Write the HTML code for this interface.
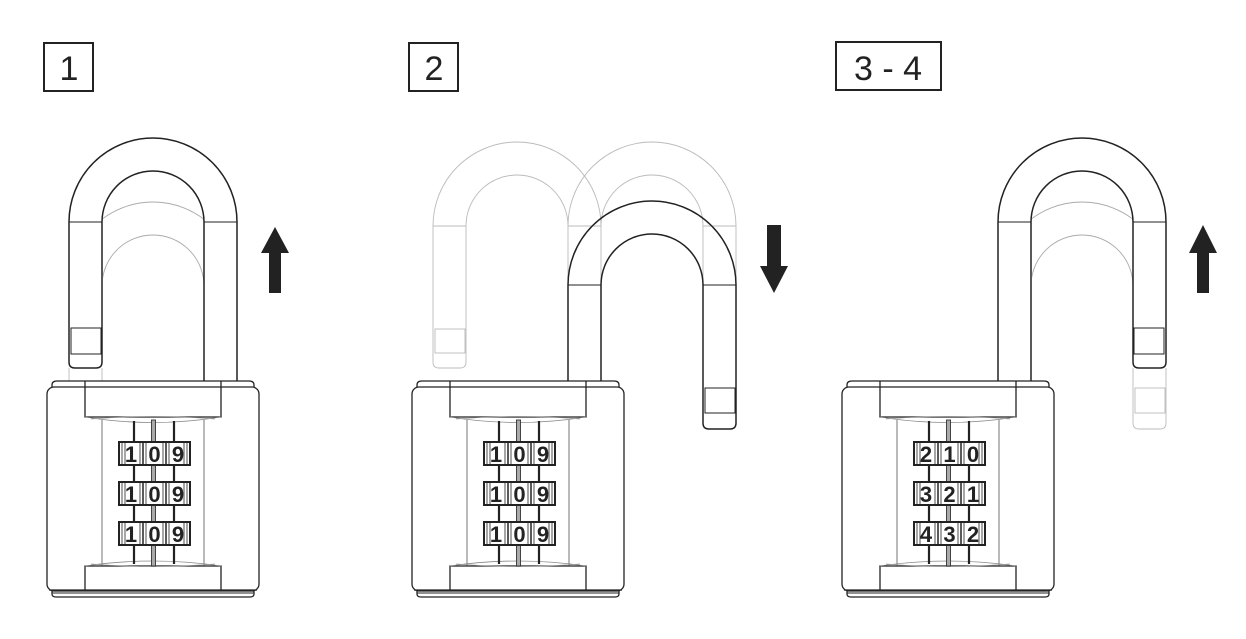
<!DOCTYPE html>
<html><head><meta charset="utf-8"><style>
html,body{margin:0;padding:0;background:#fff;}
svg{display:block;}
text{font-family:"Liberation Sans",sans-serif;}
.d{font-weight:bold;}
</style></head><body>
<svg width="1246" height="639" viewBox="0 0 1246 639" xmlns="http://www.w3.org/2000/svg">
<defs>
<g id="body" fill="none" stroke="#222" stroke-width="1.3">
  <path d="M5,388 L5,385 Q5,381 10,381 L202,381 Q207,381 207,385 L207,388" fill="#fff"/>
  <rect x="0" y="387" width="212" height="204" rx="7" fill="#fff"/>
  <path d="M5,591 L5,594 Q5,597 9,597 L203,597 Q207,597 207,594 L207,591"/>
  <line x1="2" y1="590" x2="210" y2="590"/>
  <line x1="5" y1="593" x2="207" y2="593" stroke-width="1"/>
  <path d="M38,381 L38,417 L174,417 L174,381"/>
  <path d="M38,417 Q106,428 174,417" stroke="#888" stroke-width="0.8"/>
  <path d="M44,419 Q106,414 168,419" stroke="#999" stroke-width="0.7"/>
  <line x1="55" y1="420" x2="55" y2="566" stroke="#666" stroke-width="0.9"/>
  <line x1="157" y1="420" x2="157" y2="566" stroke="#666" stroke-width="0.9"/>
  <path d="M38,590 L38,566 L174,566 L174,590"/>
  <path d="M38,566 Q106,556 174,566" stroke="#888" stroke-width="0.8"/>
  <path d="M44,564 Q106,569 168,564" stroke="#999" stroke-width="0.7"/>
  <line x1="87" y1="421" x2="87" y2="564" stroke-width="2.2"/>
  <line x1="127" y1="421" x2="127" y2="564" stroke-width="2.2"/>
  <rect x="104.5" y="420" width="4" height="146" fill="#aaa" stroke="#333" stroke-width="0.9"/>
</g>
<g id="wheel" fill="#fff" stroke="#222">
  <rect x="0" y="0" width="71" height="23" stroke-width="2"/>
  <g stroke-width="0.8">
    <line x1="3" y1="1" x2="3" y2="22"/><line x1="6" y1="1" x2="6" y2="22"/>
    <line x1="21" y1="1" x2="21" y2="22"/>
    <line x1="24" y1="1" x2="24" y2="22" stroke-width="1.5"/>
    <line x1="27" y1="1" x2="27" y2="22"/>
    <line x1="44" y1="1" x2="44" y2="22"/>
    <line x1="47" y1="1" x2="47" y2="22" stroke-width="1.5"/>
    <line x1="50" y1="1" x2="50" y2="22"/>
    <line x1="65" y1="1" x2="65" y2="22"/><line x1="68" y1="1" x2="68" y2="22"/>
  </g>
</g>
</defs>

<!-- Labels -->
<g fill="none" stroke="#222" stroke-width="2">
  <rect x="44" y="43" width="49" height="48"/>
  <rect x="409" y="43" width="49" height="48"/>
  <rect x="836" y="42" width="105" height="48"/>
</g>
<g font-size="34" fill="#222" text-anchor="middle">
  <text x="69" y="80">1</text>
  <text x="434" y="80">2</text>
  <text x="888" y="80">3 - 4</text>
</g>

<!-- ===== PANEL 1 ===== -->
<g fill="none">
  <clipPath id="c1"><rect x="103" y="150" width="101" height="235"/></clipPath>
  <g clip-path="url(#c1)" stroke="#aaa" stroke-width="0.9">
    <path d="M69,286 A84 84 0 0 1 237,286"/>
    <path d="M102,286 A51 51 0 0 1 204,286"/>
  </g>
  <line x1="69" y1="368" x2="69" y2="382" stroke="#bbb" stroke-width="0.9"/>
  <line x1="102" y1="368" x2="102" y2="382" stroke="#bbb" stroke-width="0.9"/>
  <g stroke="#222" stroke-width="1.5">
    <path d="M237,382 L237,222 A84 84 0 0 0 69,222 L69,362 Q69,368 75,368 L96,368 Q102,368 102,362 L102,222 A51 51 0 0 1 204,222 L204,382"/>
    <line x1="69" y1="222" x2="102" y2="222" stroke-width="1"/>
    <line x1="204" y1="222" x2="237" y2="222" stroke-width="1"/>
    <rect x="71" y="328" width="30" height="26" stroke-width="1"/>
  </g>
</g>
<use href="#body" x="47" y="0"/>
<use href="#wheel" x="119" y="442"/><use href="#wheel" x="119" y="482"/><use href="#wheel" x="119" y="522"/>
<g class="d" font-size="22" fill="#222" text-anchor="middle">
  <text x="131" y="462">1</text><text x="154.5" y="462">0</text><text x="178" y="462">9</text>
  <text x="131" y="502">1</text><text x="154.5" y="502">0</text><text x="178" y="502">9</text>
  <text x="131" y="542">1</text><text x="154.5" y="542">0</text><text x="178" y="542">9</text>
</g>
<path d="M275,227 L289,253 L281,253 L281,293 L269,293 L269,253 L261,253 Z" fill="#222"/>

<!-- ===== PANEL 2 ===== -->
<g fill="none" stroke="#bbb" stroke-width="0.9">
  <path d="M601,382 L601,226 A84 84 0 0 0 433,226 L433,362 Q433,368 439,368 L460,368 Q466,368 466,362 L466,226 A51 51 0 0 1 568,226 L568,382"/>
  <line x1="433" y1="226" x2="466" y2="226"/><line x1="568" y1="226" x2="601" y2="226"/>
  <rect x="435" y="329" width="30" height="24"/>
  <path d="M568,226 A84 84 0 0 1 736,226 L736,290 M703,290 L703,226 A51 51 0 0 0 601,226"/>
  <line x1="703" y1="226" x2="736" y2="226"/>
</g>
<g fill="none" stroke="#222" stroke-width="1.5">
  <path d="M568,382 L568,285 A84 84 0 0 1 736,285 L736,423 Q736,429 730,429 L709,429 Q703,429 703,423 L703,285 A51 51 0 0 0 601,285 L601,382"/>
  <line x1="568" y1="285" x2="601" y2="285" stroke-width="1"/>
  <line x1="703" y1="285" x2="736" y2="285" stroke-width="1"/>
  <rect x="705" y="388" width="30" height="25" stroke-width="1"/>
</g>
<use href="#body" x="412" y="0"/>
<use href="#wheel" x="484" y="442"/><use href="#wheel" x="484" y="482"/><use href="#wheel" x="484" y="522"/>
<g class="d" font-size="22" fill="#222" text-anchor="middle">
  <text x="496" y="462">1</text><text x="519.5" y="462">0</text><text x="543" y="462">9</text>
  <text x="496" y="502">1</text><text x="519.5" y="502">0</text><text x="543" y="502">9</text>
  <text x="496" y="542">1</text><text x="519.5" y="542">0</text><text x="543" y="542">9</text>
</g>
<path d="M767,225 L781,225 L781,266 L788,266 L774,293 L760,266 L767,266 Z" fill="#222"/>

<!-- ===== PANEL 3 ===== -->
<g fill="none">
  <clipPath id="c3"><rect x="1032" y="150" width="101" height="235"/></clipPath>
  <g clip-path="url(#c3)" stroke="#aaa" stroke-width="0.9">
    <path d="M998,286 A84 84 0 0 1 1166,286"/>
    <path d="M1031,286 A51 51 0 0 1 1133,286"/>
  </g>
  <g stroke="#bbb" stroke-width="0.9">
    <path d="M1133,368 L1133,423 Q1133,429 1139,429 L1160,429 Q1166,429 1166,423 L1166,368"/>
    <rect x="1135" y="388" width="30" height="25"/>
  </g>
  <g stroke="#222" stroke-width="1.5">
    <path d="M998,382 L998,222 A84 84 0 0 1 1166,222 L1166,362 Q1166,368 1160,368 L1139,368 Q1133,368 1133,362 L1133,222 A51 51 0 0 0 1031,222 L1031,382"/>
    <line x1="998" y1="222" x2="1031" y2="222" stroke-width="1"/>
    <line x1="1133" y1="222" x2="1166" y2="222" stroke-width="1"/>
    <rect x="1134" y="328" width="30" height="26" stroke-width="1"/>
  </g>
</g>
<use href="#body" x="842" y="0"/>
<use href="#wheel" x="914" y="442"/><use href="#wheel" x="914" y="482"/><use href="#wheel" x="914" y="522"/>
<g class="d" font-size="22" fill="#222" text-anchor="middle">
  <text x="926" y="462">2</text><text x="949.5" y="462">1</text><text x="973" y="462">0</text>
  <text x="926" y="502">3</text><text x="949.5" y="502">2</text><text x="973" y="502">1</text>
  <text x="926" y="542">4</text><text x="949.5" y="542">3</text><text x="973" y="542">2</text>
</g>
<path d="M1203,225 L1217,253 L1209,253 L1209,293 L1197,293 L1197,253 L1189,253 Z" fill="#222"/>
</svg>
</body></html>
